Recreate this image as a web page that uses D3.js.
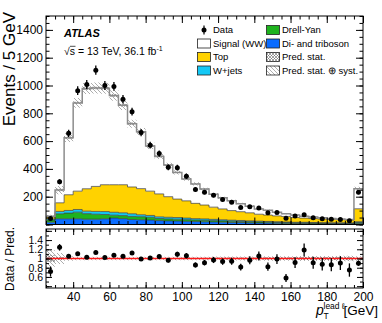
<!DOCTYPE html>
<html><head><meta charset="utf-8">
<script src="https://cdn.jsdelivr.net/npm/d3@7"></script>
<style>
body{margin:0;background:#fff}
svg{display:block;font-family:"Liberation Sans",Arial,Helvetica,sans-serif}
</style>
</head><body>
<svg id="c" width="382" height="323"></svg>
<script>
// ---- data (5 GeV bins, last bin includes overflow) ----
const binEdges = [25,30,35,40,45,50,55,60,65,70,75,80,85,90,95,100,105,110,115,120,125,130,135,140,145,150,155,160,165,170,175,180,185,190,195,200];
const dataCounts = [43,308,656,963,1007,1110,1000,993,901,812,661,571,510,411,409,348,251,232,211,179,160,122,127,118,84,87,45,62,71,49,42,38,36,27,232];
const signalWW  = [6,92,411,635,721,708,694,642,572,455,410,325,270,228,192,158,140,115,93,80,70,58,48,38,34,26,20,18,14,11,8,7,5,4,145];
const topQuark  = [15,62,113,132,161,180,193,198,202,193,188,175,165,148,133,124,110,100,88,78,69,63,58,50,46,42,40,34,30,29,27,25,23,21,93];
const wJets     = [7,17,19,19,18,20,21,21,20,19,14,13,12,12,12,11,10,10,9,8,7,7,6,6,5,5,4,4,4,3,3,3,3,3,6];
const drellYan  = [15,36,41,48,40,36,31,21,22,22,22,20,15,14,13,12,11,11,10,9,9,8,8,7,7,6,6,5,5,5,4,4,4,4,6];
const diboson   = [17,41,41,41,38,38,41,46,42,36,34,32,28,26,25,23,21,19,18,17,15,14,12,11,10,9,8,7,7,6,6,5,5,4,8];
// relative uncertainties of the prediction
const statUnc   = [0.07,0.035,0.012,0.01,0.01,0.01,0.01,0.01,0.01,0.011,0.011,0.012,0.012,0.013,0.014,0.015,0.016,0.017,0.018,0.019,0.02,0.021,0.022,0.023,0.025,0.026,0.027,0.028,0.03,0.031,0.032,0.033,0.035,0.036,0.02];
const totUnc    = [0.18,0.12,0.05,0.04,0.04,0.04,0.04,0.04,0.04,0.04,0.04,0.04,0.04,0.04,0.04,0.04,0.04,0.04,0.042,0.042,0.045,0.045,0.045,0.045,0.05,0.05,0.05,0.05,0.055,0.055,0.055,0.055,0.06,0.06,0.05];
const xMajorTicks = [40,60,80,100,120,140,160,180,200];
const yMajorTicks = [0,200,400,600,800,1000,1200,1400];
const yTickLabels = ["","200","400","600","800","1000","1200","1400"];
const ratioMajorTicks = [0.4,0.6,0.8,1,1.2,1.4,1.6];
const ratioTickLabels = ["","0.6","0.8","1","1.2","1.4",""];

const processes = [
  {key:"diboson", name:"Di- and triboson", vals:diboson, color:"#0a6cff"},
  {key:"dy", name:"Drell-Yan", vals:drellYan, color:"#1eb31e"},
  {key:"wjets", name:"W+jets", vals:wJets, color:"#14c8f5"},
  {key:"topq", name:"Top", vals:topQuark, color:"#ffd200"},
  {key:"ww", name:"Signal (WW)", vals:signalWW, color:"#ffffff"}
];

const svg = d3.select("#c");
const L = 46, R = 363;
const mainTop = 16, mainBot = 224.5;
const ratTop = 229, ratBot = 288;

const x = d3.scaleLinear().domain([25,200]).range([L,R]);
const y = d3.scaleLinear().domain([0,1500]).range([mainBot,mainTop]);
const yr = d3.scaleLinear().domain([0.36,1.64]).range([ratBot,ratTop]);

const defs = svg.append("defs");
const pSyst = defs.append("pattern").attr("id","hSyst").attr("patternUnits","userSpaceOnUse").attr("width",4).attr("height",4);
pSyst.append("path").attr("d","M-1,-1L5,5M3,-1L5,1M-1,3L1,5").attr("stroke","#999").attr("stroke-width",0.8);
const pStat = defs.append("pattern").attr("id","hStat").attr("patternUnits","userSpaceOnUse").attr("width",3).attr("height",3);
pStat.append("path").attr("d","M-1,-1L4,4M-1,4L4,-1").attr("stroke","#666").attr("stroke-width",0.6);
defs.append("clipPath").attr("id","clipMain").append("rect").attr("x",L).attr("y",mainTop).attr("width",R-L).attr("height",mainBot-mainTop);
defs.append("clipPath").attr("id","clipRat").append("rect").attr("x",L).attr("y",ratTop).attr("width",R-L).attr("height",ratBot-ratTop);

const rows = binEdges.slice(0,-1).map((e,i)=>{const r={lo:e,hi:binEdges[i+1]}; processes.forEach(p=>r[p.key]=p.vals[i]); return r;});
const stack = d3.stack().keys(processes.map(p=>p.key))(rows);
const stepPts = s => s.flatMap(d=>[{x:d.data.lo,y0:d[0],y1:d[1]},{x:d.data.hi,y0:d[0],y1:d[1]}]);
const area = d3.area().x(d=>x(d.x)).y0(d=>y(d.y0)).y1(d=>y(d.y1));
const line = d3.line().x(d=>x(d.x)).y(d=>y(d.y1));

const gMain = svg.append("g").attr("clip-path","url(#clipMain)");
stack.forEach((s,k)=>{
  gMain.append("path").attr("d",area(stepPts(s))).attr("fill",processes[k].color);
});
stack.forEach((s,k)=>{
  if(k===stack.length-1) return;
  gMain.append("path").attr("d",line(stepPts(s))).attr("fill","none").attr("stroke","#3a3a3a").attr("stroke-width",0.7);
});
const totals = rows.map(r=>processes.reduce((a,p)=>a+r[p.key],0));
function bandPts(rel, center){
  return rows.flatMap((r,i)=>{const c=center(i); return [{x:r.lo,y0:c*(1-rel[i]),y1:c*(1+rel[i])},{x:r.hi,y0:c*(1-rel[i]),y1:c*(1+rel[i])}];});
}
gMain.append("path").attr("d",area(bandPts(totUnc,i=>totals[i]))).attr("fill","url(#hSyst)");
gMain.append("path").attr("d",area(bandPts(statUnc,i=>totals[i]))).attr("fill","url(#hStat)");
const topPts = stepPts(stack[stack.length-1]);
const outline = [{x:25,y1:0},...topPts,{x:200,y1:0}];
gMain.append("path").attr("d",line(outline)).attr("fill","none").attr("stroke","#8c8c8c").attr("stroke-width",1.5);

const gData = gMain.append("g");
rows.forEach((r,i)=>{
  const cx = x((r.lo+r.hi)/2), n = dataCounts[i], e = Math.sqrt(n);
  gData.append("line").attr("x1",cx).attr("x2",cx).attr("y1",y(n-e)).attr("y2",y(n+e)).attr("stroke","#000").attr("stroke-width",1.3);
  gData.append("circle").attr("cx",cx).attr("cy",y(n)).attr("r",2.5).attr("fill","#000");
});

const area2 = d3.area().x(d=>x(d.x)).y0(d=>yr(d.y0)).y1(d=>yr(d.y1));
const gRat = svg.append("g").attr("clip-path","url(#clipRat)");
gRat.append("path").attr("d",area2(bandPts(totUnc,()=>1))).attr("fill","url(#hSyst)");
gRat.append("path").attr("d",area2(bandPts(statUnc,()=>1))).attr("fill","url(#hStat)");
gRat.append("line").attr("x1",L).attr("x2",R).attr("y1",yr(1)).attr("y2",yr(1)).attr("stroke","#ff1a1a").attr("stroke-width",1.5);
rows.forEach((r,i)=>{
  const cx = x((r.lo+r.hi)/2), n = dataCounts[i], t = totals[i];
  const rv = n/t, e = Math.sqrt(n)/t;
  gRat.append("line").attr("x1",cx).attr("x2",cx).attr("y1",yr(rv-e)).attr("y2",yr(rv+e)).attr("stroke","#000").attr("stroke-width",1.3);
  gRat.append("circle").attr("cx",cx).attr("cy",yr(rv)).attr("r",2.5).attr("fill","#000");
});

[[mainTop,mainBot],[ratTop,ratBot]].forEach(([t,b])=>{
  svg.append("rect").attr("x",L).attr("y",t).attr("width",R-L).attr("height",b-t).attr("fill","none").attr("stroke","#000").attr("stroke-width",1);
});

const xMinor = d3.range(25,201,5);
function ticks(axisFn, scale, values, size, tr, fmt){
  const a = axisFn(scale).tickValues(values).tickSizeInner(-size).tickSizeOuter(0);
  if(fmt) a.tickFormat(fmt); else a.tickFormat("");
  const g = svg.append("g").attr("transform",tr).call(a);
  g.select(".domain").remove();
  g.selectAll(".tick line").attr("stroke","#000");
  return g;
}
ticks(d3.axisBottom, x, xMinor, 3.5, `translate(0,${mainBot})`);
ticks(d3.axisBottom, x, xMajorTicks, 7, `translate(0,${mainBot})`);
ticks(d3.axisTop, x, xMinor, 3.5, `translate(0,${mainTop})`);
ticks(d3.axisTop, x, xMajorTicks, 7, `translate(0,${mainTop})`);
const yMinor = d3.range(0,1501,50);
ticks(d3.axisLeft, y, yMinor, 3.5, `translate(${L},0)`);
const gy = ticks(d3.axisLeft, y, yMajorTicks, 7, `translate(${L},0)`, (d,i)=>yTickLabels[i]);
gy.selectAll("text").attr("font-size",12).attr("font-family","Liberation Sans, Arial, sans-serif").attr("fill","#000").attr("x",-3);
ticks(d3.axisRight, y, yMinor, 3.5, `translate(${R},0)`);
ticks(d3.axisRight, y, yMajorTicks, 7, `translate(${R},0)`);
ticks(d3.axisTop, x, xMinor, 3, `translate(0,${ratTop})`);
ticks(d3.axisTop, x, xMajorTicks, 6, `translate(0,${ratTop})`);
ticks(d3.axisBottom, x, xMinor, 3, `translate(0,${ratBot})`);
const gx = ticks(d3.axisBottom, x, xMajorTicks, 6, `translate(0,${ratBot})`, d=>d);
gx.selectAll("text").attr("font-size",12).attr("font-family","Liberation Sans, Arial, sans-serif").attr("fill","#000").attr("y",4);
const rMinor = d3.range(0.4,1.61,0.1).map(v=>+v.toFixed(2));
ticks(d3.axisLeft, yr, rMinor, 3, `translate(${L},0)`);
const gr = ticks(d3.axisLeft, yr, ratioMajorTicks, 6, `translate(${L},0)`, (d,i)=>ratioTickLabels[i]);
gr.selectAll("text").attr("font-size",10.5).attr("font-family","Liberation Sans, Arial, sans-serif").attr("fill","#000").attr("x",-3);
ticks(d3.axisRight, yr, rMinor, 3, `translate(${R},0)`);
ticks(d3.axisRight, yr, ratioMajorTicks, 6, `translate(${R},0)`);

svg.append("text").attr("transform","translate(15,12) rotate(-90)").attr("text-anchor","end")
  .attr("font-size",17).text("Events / 5 GeV");
svg.append("text").attr("transform","translate(14,259) rotate(-90)").attr("text-anchor","middle")
  .attr("font-size",12).text("Data / Pred.");
// x title: p_T^{lead l} [GeV]
const xtG = svg.append("g");
xtG.append("text").attr("x",378).attr("y",315).attr("text-anchor","end").attr("font-size",13.5).text("[GeV]");
xtG.append("text").attr("x",316).attr("y",315).attr("font-size",14).attr("font-style","italic").text("p");
xtG.append("text").attr("x",323.5).attr("y",319).attr("font-size",8.5).text("T");
xtG.append("text").attr("x",323.5).attr("y",309).attr("font-size",8.5).text("lead ℓ");

svg.append("text").attr("x",64).attr("y",37).attr("font-size",11).attr("font-weight","bold").attr("font-style","italic").text("ATLAS");
const en = svg.append("text").attr("x",64).attr("y",55).attr("font-size",10.5);
en.append("tspan").text("√s = 13 TeV, 36.1 fb");
en.append("tspan").attr("font-size",7).attr("dy",-4).text("-1");
svg.append("line").attr("x1",70).attr("x2",75.5).attr("y1",46.3).attr("y2",46.3).attr("stroke","#000").attr("stroke-width",0.7);

const rowsY = [30,43.5,57,70.5];
const lg = svg.append("g").attr("font-size",9.5);
lg.append("line").attr("x1",204).attr("x2",204).attr("y1",rowsY[0]-4.5).attr("y2",rowsY[0]+4.5).attr("stroke","#000").attr("stroke-width",1.2);
lg.append("circle").attr("cx",204).attr("cy",rowsY[0]).attr("r",2.5).attr("fill","#000");
lg.append("text").attr("x",213).attr("y",rowsY[0]).attr("dy","0.35em").text("Data");
const legendItems = [
  {col:0,row:1,fill:"#ffffff",label:"Signal (WW)"},
  {col:0,row:2,fill:processes[3].color,label:"Top"},
  {col:0,row:3,fill:processes[2].color,label:"W+jets"},
  {col:1,row:0,fill:processes[1].color,label:"Drell-Yan"},
  {col:1,row:1,fill:processes[0].color,label:"Di- and triboson"},
  {col:1,row:2,fill:"url(#hStat)",label:"Pred. stat."},
  {col:1,row:3,fill:"url(#hSyst)",label:"Pred. stat. ⊕ syst."}
];
legendItems.forEach(it=>{
  const bx = it.col===0 ? 197.5 : 266.5;
  const cy = rowsY[it.row];
  lg.append("rect").attr("x",bx).attr("y",cy-4.5).attr("width",13).attr("height",9).attr("fill",it.fill).attr("stroke","#222").attr("stroke-width",0.8);
  lg.append("text").attr("x",bx+15.5).attr("y",cy).attr("dy","0.35em").text(it.label);
});
</script>
</body></html>
